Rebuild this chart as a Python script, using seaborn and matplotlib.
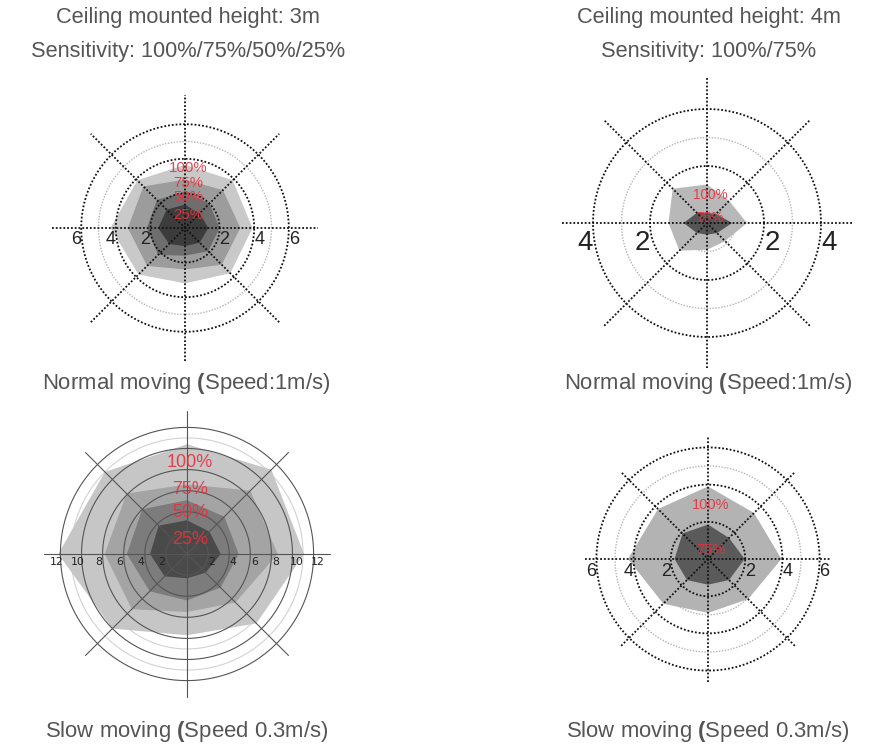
import numpy as np
import matplotlib
matplotlib.use("Agg")
import matplotlib.pyplot as plt
import seaborn as sns

sns.set_theme(style="white")
plt.rcParams["font.family"] = ["Liberation Sans", "DejaVu Sans"]
plt.rcParams["mathtext.fontset"] = "custom"
plt.rcParams["mathtext.rm"] = "Liberation Sans"
plt.rcParams["mathtext.bf"] = "Liberation Sans:bold"

W, H = 886, 752

# directions of the radii: E, NE, N, NW, W, SW, S, SE (degrees)
directions = [0, 45, 90, 135, 180, 225, 270, 315]

# ceiling 3m, normal moving: detection radius (m) per sensitivity
p1_levels = ["100%", "75%", "50%", "25%"]
p1_r100 = [3.9, 3.9, 3.65, 3.9, 4.3, 3.8, 3.2, 3.7]
p1_r75 = [3.2, 3.1, 2.8, 3.4, 3.3, 3.1, 2.4, 3.0]
p1_r50 = [2.0, 2.0, 2.1, 2.3, 2.2, 2.2, 1.6, 1.9]
p1_r25 = [1.35, 1.2, 1.35, 1.5, 1.55, 1.3, 1.05, 1.2]
p1_ticks = [2, 4, 6]

# ceiling 4m, normal moving
p2_levels = ["100%", "75%"]
p2_r100 = [1.4, 1.1, 1.35, 1.7, 1.35, 1.37, 0.94, 0.9]
p2_r75 = [0.88, 0.45, 0.35, 0.5, 0.82, 0.5, 0.41, 0.5]
p2_ticks = [2, 4]

# ceiling 3m, slow moving
p3_levels = ["100%", "75%", "50%", "25%"]
p3_r100 = [11.1, 11.3, 10.4, 11.0, 12.2, 10.0, 7.7, 9.3]
p3_r75 = [8.6, 8.5, 6.6, 8.1, 7.8, 7.4, 5.5, 6.5]
p3_r50 = [4.9, 5.0, 5.1, 6.0, 5.7, 5.0, 4.4, 4.5]
p3_r25 = [3.2, 3.0, 3.2, 3.8, 3.5, 3.0, 2.3, 2.5]
p3_ticks = [2, 4, 6, 8, 10, 12]

# ceiling 4m, slow moving
p4_levels = ["100%", "75%"]
p4_r100 = [3.95, 3.5, 3.9, 3.8, 4.3, 3.4, 2.9, 3.05]
p4_r75 = [1.97, 1.6, 1.85, 1.94, 1.8, 1.6, 1.38, 1.6]
p4_ticks = [2, 4, 6]

titles = [("Ceiling mounted height: 3m", "Sensitivity: 100%/75%/50%/25%"),
          ("Ceiling mounted height: 4m", "Sensitivity: 100%/75%")]
captions = [r"Normal moving $\mathbf{(}$Speed:1m/s)", r"Normal moving $\mathbf{(}$Speed:1m/s)",
            r"Slow moving $\mathbf{(}$Speed 0.3m/s)", r"Slow moving $\mathbf{(}$Speed 0.3m/s)"]

DOT = (0, (1.0, 1.1))
RED = "#e6323e"
TXT = "#555555"

panels = [
    dict(cx=185, cy=228, scale=17.3, reach=7.7, radii=[p1_r100, p1_r75, p1_r50, p1_r25],
         levels=p1_levels, colors=["#c9c9c9", "#9c9c9c", "#6e6e6e", "#3c3c3c"],
         label_y=[3.47, 2.6, 1.8, 0.75], pct_size=10.8,
         dark=[2, 4, 6], light=[1, 3, 5], ticks=p1_ticks, tick_size=13, tick_dx=5, tick_dy=12,
         solid=False),
    dict(cx=707, cy=223, scale=28.5, reach=5.1, radii=[p2_r100, p2_r75],
         levels=p2_levels, colors=["#b8b8b8", "#555555"],
         label_y=[0.98, 0.18], pct_size=9.8,
         dark=[2, 4], light=[1, 3], ticks=p2_ticks, tick_size=20, tick_dx=8, tick_dy=20,
         solid=False),
    dict(cx=187, cy=554, scale=10.55, reach=13.6, radii=[p3_r100, p3_r75, p3_r50, p3_r25],
         levels=p3_levels, colors=["#c6c6c6", "#a4a4a4", "#7c7c7c", "#4a4a4a"],
         label_y=[8.7, 6.1, 3.9, 1.4], pct_size=13,
         dark=[2, 4, 6, 8, 10, 12], light=[1, 3, 5, 7, 9, 11], ticks=p3_ticks, tick_size=7.8,
         tick_dx=4, tick_dy=8, solid=True),
    dict(cx=708, cy=559, scale=18.6, reach=6.6, radii=[p4_r100, p4_r75],
         levels=p4_levels, colors=["#b3b3b3", "#5a5a5a"],
         label_y=[2.9, 0.5], pct_size=10.5,
         dark=[2, 4, 6], light=[1, 3, 5], ticks=p4_ticks, tick_size=13, tick_dx=5, tick_dy=13,
         solid=False),
]

fig = plt.figure(figsize=(W / 100, H / 100), dpi=100)
half = 150
th = np.deg2rad(directions)
circ = np.linspace(0, 2 * np.pi, 361)

for p in panels:
    ax = fig.add_axes([(p["cx"] - half) / W, 1 - (p["cy"] + half) / H, 2 * half / W, 2 * half / H])
    lim = half / p["scale"]
    ax.set_xlim(-lim, lim)
    ax.set_ylim(-lim, lim)
    ax.axis("off")

    for r, c in zip(p["radii"], p["colors"]):
        r = np.array(r)
        ax.fill(r * np.cos(th), r * np.sin(th), color=c, lw=0, zorder=1)

    if p["solid"]:
        dark_kw = dict(color="#555555", lw=0.8, ls="-")
        light_kw = dict(color="#d2d2d2", lw=0.8, ls="-")
        axis_kw = dict(color="#555555", lw=0.8, ls="-")
    else:
        dark_kw = dict(color="#111111", lw=1.3, ls=DOT)
        light_kw = dict(color="#b5b5b5", lw=1.0, ls=DOT)
        axis_kw = dict(color="#111111", lw=1.3, ls=DOT)

    for rr in p["light"]:
        ax.plot(rr * np.cos(circ), rr * np.sin(circ), zorder=0.5, **light_kw)
    for rr in p["dark"]:
        ax.plot(rr * np.cos(circ), rr * np.sin(circ), zorder=3, **dark_kw)
    for a in np.deg2rad([0, 45, 90, 135]):
        R = p["reach"]
        ax.plot([-R * np.cos(a), R * np.cos(a)], [-R * np.sin(a), R * np.sin(a)], zorder=3, **axis_kw)

    for t in p["ticks"]:
        for sgn in (-1, 1):
            ax.annotate(str(t), xy=(sgn * t, 0), xytext=(sgn * p["tick_dx"], -p["tick_dy"]),
                        textcoords="offset pixels", ha="center", va="center",
                        fontsize=p["tick_size"], color="#222222", zorder=5,
                        family=["DejaVu Sans"] if p["solid"] else ["Liberation Sans"])

    for lab, y in zip(p["levels"], p["label_y"]):
        ax.text(3 / p["scale"], y, lab, ha="center", va="center", color=RED,
                fontsize=p["pct_size"], zorder=6, alpha=0.9)

for i, (t1, t2) in enumerate(titles):
    x = [188, 709][i] / W
    fig.text(x, 1 - 17 / H, t1, ha="center", va="center", fontsize=15.7, color=TXT)
    fig.text(x, 1 - 52 / H, t2, ha="center", va="center", fontsize=15.7, color=TXT)

for i, cap in enumerate(captions):
    x = [186, 708, 187, 708][i] / W
    y = [384, 384, 731, 731][i] / H
    fig.text(x, 1 - y, cap, ha="center", va="center", fontsize=15.9, color=TXT)

fig.savefig("out.png", dpi=100, facecolor="white")
